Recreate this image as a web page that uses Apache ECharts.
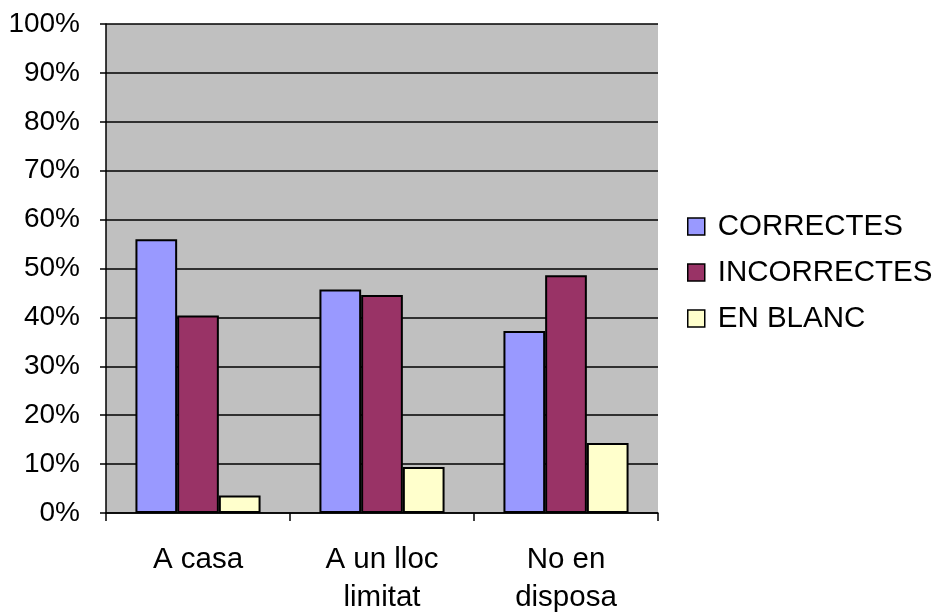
<!DOCTYPE html>
<html>
<head>
<meta charset="utf-8">
<script src="https://cdn.jsdelivr.net/npm/echarts@6/dist/echarts.min.js"></script>
<style>html,body{margin:0;padding:0;background:#fff;}#c{width:937px;height:612px;}</style>
</head>
<body>
<div id="c"></div>
<script>
const categories = ['A casa', 'A un lloc\nlimitat', 'No en\ndisposa'];
const seriesNames = ['CORRECTES', 'INCORRECTES', 'EN BLANC'];
const correctes = [56.0, 45.7, 37.2];
const incorrectes = [40.4, 44.6, 48.6];
const enBlanc = [3.6, 9.4, 14.3];
const colors = ['#9999FF', '#993366', '#FFFFCC'];

const chart = echarts.init(document.getElementById('c'));
const font = 'Liberation Sans, Arial, sans-serif';
const mk = (name, data, color) => ({
  name, type: 'bar', data,
  barGap: '0%', barCategoryGap: '32%',
  itemStyle: { color, borderColor: '#000', borderWidth: 2 }
});
chart.setOption({
  animation: false,
  color: colors,
  grid: { left: 106, right: 279, top: 24, bottom: 99, show: true, backgroundColor: '#C0C0C0', borderWidth: 0, outerBoundsMode: 'none', containLabel: false },
  legend: {
    orient: 'vertical', left: 687, top: 211, padding: 0,
    itemWidth: 17, itemHeight: 17, itemGap: 15,
    icon: 'rect',
    itemStyle: { borderColor: '#000', borderWidth: 1.5 },
    textStyle: { fontSize: 29.5, fontFamily: font, color: '#000', lineHeight: 31, padding: [0, 0, 0, 8] },
    data: seriesNames
  },
  xAxis: {
    type: 'category', data: categories,
    axisLine: { lineStyle: { color: '#000', width: 1.5 } },
    axisTick: { show: true, length: 8, lineStyle: { color: '#000', width: 1.5 } },
    axisLabel: { fontSize: 29.5, fontFamily: font, color: '#000', margin: 28, lineHeight: 38, interval: 0 }
  },
  yAxis: {
    type: 'value', min: 0, max: 100, interval: 10,
    axisLine: { show: true, lineStyle: { color: '#000', width: 1.5 } },
    axisTick: { show: true, length: 6, lineStyle: { color: '#000', width: 1.5 } },
    axisLabel: { formatter: '{value}%', fontSize: 28, fontFamily: font, color: '#000', margin: 26 },
    splitLine: { show: true, lineStyle: { color: '#000', width: 1.5 } }
  },
  series: [
    mk(seriesNames[0], correctes, colors[0]),
    mk(seriesNames[1], incorrectes, colors[1]),
    mk(seriesNames[2], enBlanc, colors[2])
  ]
});
</script>
</body>
</html>
